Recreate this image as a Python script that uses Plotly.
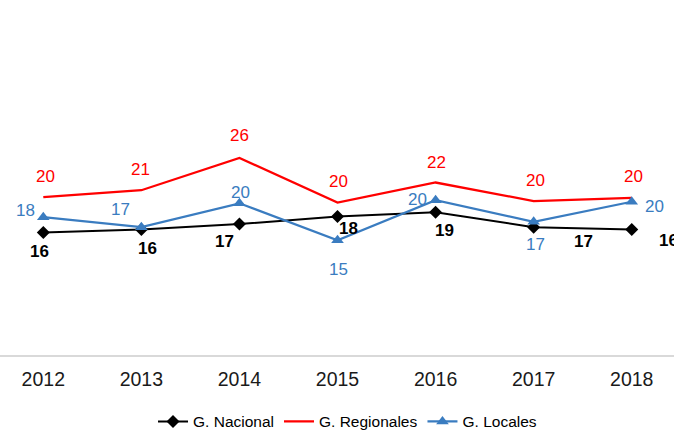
import plotly.graph_objects as go

years = ["2012", "2013", "2014", "2015", "2016", "2017", "2018"]
nacional = [15.9, 16.3, 17.0, 18.0, 18.55, 16.6, 16.3]
regionales = [20.5, 21.4, 25.6, 19.8, 22.4, 20.0, 20.4]
locales = [17.9, 16.6, 19.7, 14.9, 20.1, 17.3, 19.9]

BLUE = "#3A7CC0"
RED = "#FF0000"
BLACK = "#000000"

# label offsets (pixels) per point
off_nac = [(-4, -19), (6, -19), (-15, -17), (11, -12), (9, -18), (50, -14), (37, -11)]
off_reg = [(2, 21), (-1, 21), (0, 22), (1, 21), (1, 20), (2, 21), (2, 21)]
off_loc = [(-18, 7), (-21, 18), (1, 11), (1, -29), (-18, 1), (2, -23), (23, -5)]

xs = list(range(len(years)))
fig = go.Figure()
fig.add_trace(go.Scatter(x=xs, y=nacional, name="G. Nacional", mode="lines+markers",
                         line=dict(color=BLACK, width=2),
                         marker=dict(symbol="diamond", size=10, color=BLACK)))
fig.add_trace(go.Scatter(x=xs, y=regionales, name="G. Regionales", mode="lines",
                         line=dict(color=RED, width=2.25)))
fig.add_trace(go.Scatter(x=xs, y=locales, name="G. Locales", mode="lines+markers",
                         line=dict(color=BLUE, width=2.25),
                         marker=dict(symbol="triangle-up", size=11, color=BLUE)))

annotations = []
for vals, offs, color, bold in [(nacional, off_nac, BLACK, True),
                                (regionales, off_reg, RED, False),
                                (locales, off_loc, BLUE, False)]:
    for i, (v, (dx, dy)) in enumerate(zip(vals, offs)):
        txt = f"{round(v)}"
        if bold:
            txt = f"<b>{txt}</b>"
        annotations.append(dict(x=i, y=v, xref="x", yref="y", text=txt, showarrow=False,
                                xshift=dx, yshift=dy,
                                font=dict(family="Liberation Sans, Arial, sans-serif",
                                          size=17, color=color)))

fig.update_layout(
    width=674, height=433,
    margin=dict(l=0, r=0, t=47, b=78, autoexpand=False),
    paper_bgcolor="white", plot_bgcolor="white",
    font=dict(family="Liberation Sans, Arial, sans-serif", size=16, color="#000000"),
    showlegend=True,
    legend=dict(orientation="h", x=0.5156, xanchor="center", y=-0.217, yanchor="middle",
                font=dict(family="Liberation Sans, Arial, sans-serif",
                          size=15.5, color="#000000"),
                itemwidth=30, tracegroupgap=0),
    annotations=annotations,
)
fig.update_xaxes(range=[-0.4415, 6.431], tickvals=xs, ticktext=years, automargin=False,
                 showline=True, linecolor="#D9D9D9", linewidth=1.5,
                 showgrid=False, zeroline=False, ticks="", ticklabelstandoff=6,
                 tickfont=dict(size=19.5, color="#1a1a1a"))
fig.update_yaxes(range=[0, 40], visible=False, showgrid=False, zeroline=False, automargin=False)

fig.write_html("out.html", config={"displayModeBar": False},
               post_script="document.body.style.margin='0';document.body.style.overflow='hidden';")
